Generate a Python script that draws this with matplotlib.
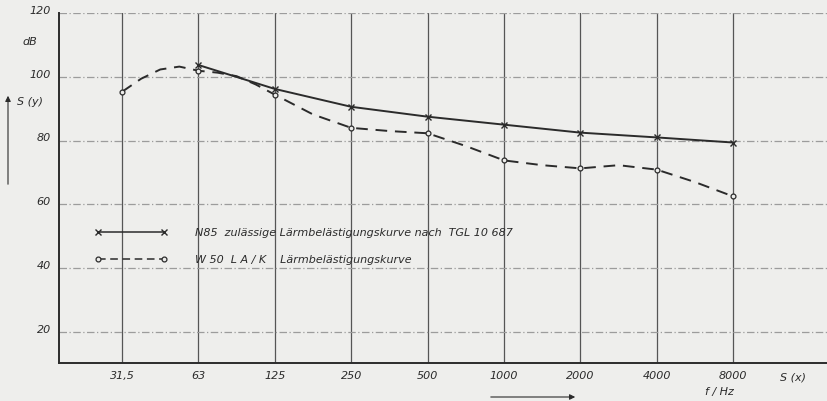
import numpy as np
import matplotlib
matplotlib.use('Agg')
from matplotlib import pyplot as plt

# frequency bands (categorical, equally spaced)
freq_labels = ['31,5', '63', '125', '250', '500', '1000', '2000', '4000', '8000']

# N85 permissible curve (starts at 63 Hz)
n85_pos = [1, 2, 3, 4, 5, 6, 7, 8]
n85_db = [103.7, 96.2, 90.6, 87.5, 85.0, 82.5, 81.0, 79.4]

# W50 LA/K measured curve, marked points
w50_pos = [0, 1, 2, 3, 4, 5, 6, 7, 8]
w50_db = [95.3, 101.9, 94.4, 84.0, 82.3, 73.8, 71.3, 70.9, 62.5]

# W50 curve traced at extra positions
w50_trace_pos = [0, 0.25, 0.5, 0.75, 1, 1.25, 1.5, 1.75, 2, 2.5, 3, 3.5, 4, 4.5, 5, 5.5, 6,
                 6.5, 7, 7.5, 8]
w50_trace_db = [95.3, 99.4, 102.3, 103.2, 101.9, 101.3, 100.2, 97.6, 94.4, 88.2, 84.0, 83.0,
                82.3, 78.3, 73.8, 72.3, 71.3, 72.3, 70.9, 67.0, 62.5]

y_ticks = [20, 40, 60, 80, 100, 120]

ink = '#2b2b2b'
paper = '#eeeeec'

fig = plt.figure(figsize=(8.28, 4.02), dpi=100, facecolor=paper)
ax = fig.add_axes([59 / 828, 1 - 364 / 402, 1 - 59 / 828, 350 / 402])
ax.set_facecolor(paper)
ax.set_xlim(-0.825, 9.24)
ax.set_ylim(10.3, 120)

# grid: vertical solid, horizontal dash-dot
for i in range(len(freq_labels)):
    ax.axvline(i, color='#555555', lw=0.9, zorder=1)
for y in y_ticks:
    ax.axhline(y, color='#9c9c9c', lw=0.9, ls=(0, (6, 2, 1, 2)), zorder=1)

for s in ['top', 'right']:
    ax.spines[s].set_visible(False)
for s in ['left', 'bottom']:
    ax.spines[s].set_color(ink)
    ax.spines[s].set_linewidth(1.4)

ax.set_xticks([])
ax.set_yticks([])

txt = dict(color=ink, style='italic', family='DejaVu Sans', fontsize=8)

for i, lab in enumerate(freq_labels):
    ax.text(i, 6.5, lab, ha='center', va='center', **txt)
for y in y_ticks:
    ax.text(-0.93, y + 1, str(y), ha='right', va='center', **txt)

# curves
ax.plot(n85_pos, n85_db, color=ink, lw=1.4, marker='x', ms=4, mew=1.0, zorder=3)
ax.plot(w50_trace_pos, w50_trace_db, color=ink, lw=1.4, ls=(0, (6, 4)), zorder=3)
ax.plot(w50_pos, w50_db, ls='none', marker='o', ms=3.5, mfc=paper, mec=ink, mew=0.9, zorder=4)

# legend drawn by hand
ax.plot([-0.32, 0.55], [51.5, 51.5], color=ink, lw=1.1, marker='x', ms=4, mew=1.0)
ax.text(0.95, 51.5, 'N85  zulässige Lärmbelästigungskurve nach  TGL 10 687', ha='left', va='center', **txt)
ax.plot([-0.32, 0.55], [43, 43], color=ink, lw=1.1, ls=(0, (5, 3)), marker='o', ms=3.5,
        mfc=paper, mec=ink, mew=0.9)
ax.text(0.95, 43, 'W 50  L A / K    Lärmbelästigungskurve', ha='left', va='center', **txt)

# axis annotations
fig.text(22 / 828, 1 - 42 / 402, 'dB', ha='left', va='center', **txt)
fig.text(17 / 828, 1 - 102 / 402, 'S (y)', ha='left', va='center', **txt)
fig.text(780 / 828, 1 - 378 / 402, 'S (x)', ha='left', va='center', **txt)
fig.text(705 / 828, 1 - 392 / 402, 'f / Hz', ha='left', va='center', **txt)
fig.add_artist(matplotlib.patches.FancyArrowPatch(
    (8 / 828, 1 - 188 / 402), (8 / 828, 1 - 94 / 402), transform=fig.transFigure,
    arrowstyle='-|>', mutation_scale=8, color=ink, lw=0.8))
fig.add_artist(matplotlib.patches.FancyArrowPatch(
    (488 / 828, 1 - 398 / 402), (578 / 828, 1 - 398 / 402), transform=fig.transFigure,
    arrowstyle='-|>', mutation_scale=8, color=ink, lw=0.8))

fig.savefig('out.png', dpi=100, facecolor=paper)
